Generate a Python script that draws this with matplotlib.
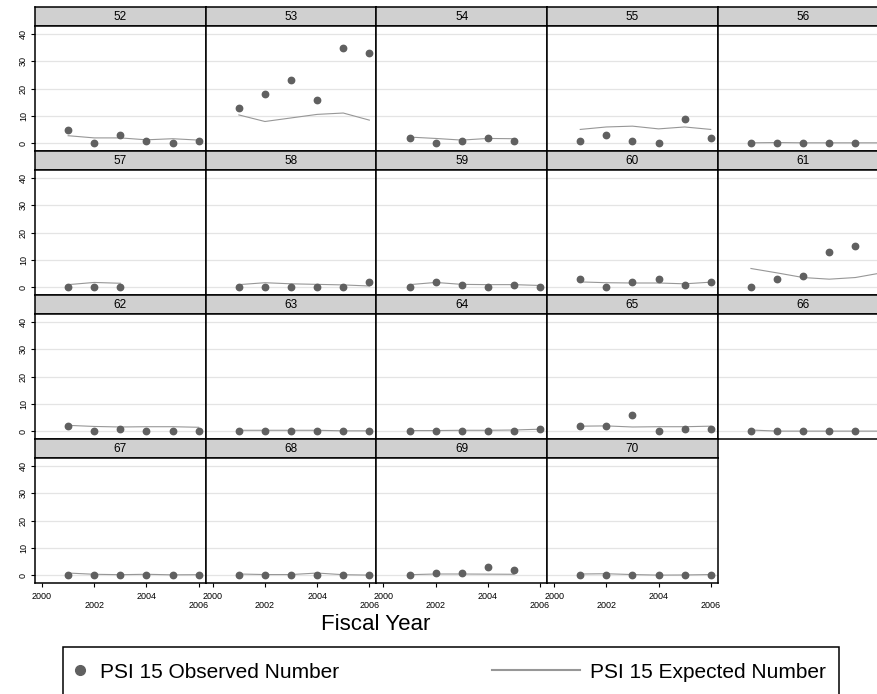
import numpy as np
import matplotlib.pyplot as plt
from matplotlib import font_manager
from matplotlib.lines import Line2D
from matplotlib.patches import Rectangle

plt.rcParams['font.family'] = ['Liberation Sans', 'DejaVu Sans']

# the legend text in the original is a narrow sans
_names = {f.name for f in font_manager.fontManager.ttflist}
if 'Liberation Sans Narrow' in _names:
    LEGEND_FONT, LEGEND_SIZE = 'Liberation Sans Narrow', 17
else:
    LEGEND_FONT, LEGEND_SIZE = 'Liberation Sans', 15

W, H = 878, 694
nan = np.nan

PANELS = list(range(52, 71))
YEARS = [2001, 2002, 2003, 2004, 2005, 2006]
XTICKS = [2000, 2002, 2004, 2006]
YTICKS = [0, 10, 20, 30, 40]

# observed counts, one row per panel (nan = no data that year)
OBSERVED = [
    [5, 0, 3, 1, 0, 1],          # 52
    [13, 18, 23, 16, 35, 33],    # 53
    [2, 0, 1, 2, 1, nan],        # 54
    [1, 3, 1, 0, 9, 2],          # 55
    [0, 0, 0, 0, 0, 0],          # 56
    [0, 0, 0, nan, nan, nan],    # 57
    [0, 0, 0, 0, 0, 2],          # 58
    [0, 2, 1, 0, 1, 0],          # 59
    [3, 0, 2, 3, 1, 2],          # 60
    [0, 3, 4, 13, 15, 23],       # 61
    [2, 0, 1, 0, 0, 0],          # 62
    [0, 0, 0, 0, 0, 0],          # 63
    [0, 0, 0, 0, 0, 1],          # 64
    [2, 2, 6, 0, 1, 1],          # 65
    [0, 0, 0, 0, 0, 0],          # 66
    [0, 0, 0, 0, 0, 0],          # 67
    [0, 0, 0, 0, 0, 0],          # 68
    [0, 1, 1, 3, 2, nan],        # 69
    [0, 0, 0, 0, 0, 0],          # 70
]

# expected counts
EXPECTED = [
    [2.8, 2.0, 2.0, 1.3, 1.7, 1.2],
    [10.4, 8.0, 9.3, 10.6, 11.1, 8.5],
    [2.3, 1.8, 1.2, 1.8, 1.7, nan],
    [5.1, 6.0, 6.3, 5.3, 6.0, 5.1],
    [0.2, 0.3, 0.2, 0.2, 0.2, 0.2],
    [1.0, 1.8, 1.5, nan, nan, nan],
    [1.0, 1.7, 1.3, 1.1, 0.9, 0.5],
    [1.0, 1.8, 1.1, 1.0, 1.0, 0.7],
    [2.0, 1.7, 1.6, 1.6, 1.3, 1.9],
    [6.9, 5.3, 3.6, 3.0, 3.6, 5.3],
    [2.2, 1.8, 1.6, 1.7, 1.7, 1.5],
    [0.4, 0.4, 0.4, 0.4, 0.2, 0.2],
    [0.3, 0.3, 0.4, 0.4, 0.5, 0.8],
    [1.9, 2.0, 1.6, 1.7, 1.7, 1.9],
    [0.5, 0.1, 0.1, 0.1, 0.1, 0.1],
    [0.85, 0.4, 0.25, 0.4, 0.2, 0.25],
    [0.5, 0.3, 0.3, 0.85, 0.25, 0.1],
    [0.25, 0.5, 0.5, 0.45, 0.4, nan],
    [0.5, 0.6, 0.3, 0.1, 0.15, 0.3],
]

NCOLS = 5
LEFT, TOP = 35, 7.3
COL_W = 170.7
STRIP_H, PLOT_H = 18.5, 125.5
ROW_H = STRIP_H + PLOT_H

DOT = '#606060'
LINE = '#979797'
GRID = '#e4e4e4'
STRIP = '#d0d0d0'


def box(x, y, w, h):
    # pixel box (top-left origin) -> figure fraction rect
    return [x / W, 1 - (y + h) / H, w / W, h / H]


fig = plt.figure(figsize=(W / 100, H / 100), dpi=100)
n = len(PANELS)

for i, panel in enumerate(PANELS):
    r, c = divmod(i, NCOLS)
    x0 = LEFT + c * COL_W
    y0 = TOP + r * ROW_H

    strip = fig.add_axes(box(x0, y0, COL_W, STRIP_H))
    strip.set_facecolor(STRIP)
    strip.set_xticks([])
    strip.set_yticks([])
    for s in strip.spines.values():
        s.set_linewidth(1.1)
    strip.text(0.5, 0.5, str(panel), ha='center', va='center', fontsize=8.5,
               transform=strip.transAxes)

    ax = fig.add_axes(box(x0, y0 + STRIP_H, COL_W, PLOT_H))
    ax.set_xlim(1999.73, 2006.27)
    ax.set_ylim(-2.9, 43.0)
    for s in ax.spines.values():
        s.set_linewidth(1.1)
    ax.set_yticks(YTICKS)
    ax.grid(axis='y', color=GRID, linewidth=0.9)
    ax.set_axisbelow(True)
    ax.plot(YEARS, EXPECTED[i], color=LINE, linewidth=0.8, zorder=2)
    ax.plot(YEARS, OBSERVED[i], linestyle='none', marker='o', markersize=4.6,
            color=DOT, zorder=3)

    ax.tick_params(axis='both', length=3, width=0.8, color='black',
                   labelsize=6.5)
    if c == 0:
        ax.tick_params(axis='y', labelrotation=90, pad=2)
        for lab in ax.get_yticklabels():
            lab.set_va('center')
    else:
        ax.tick_params(axis='y', left=False, labelleft=False)

    # only the last row gets year labels, staggered like the original
    if r == (n - 1) // NCOLS:
        ax.set_xticks(XTICKS)
        ax.set_xticklabels([str(t) for t in XTICKS])
        ax.tick_params(axis='x', pad=3)
        for k, tick in enumerate(ax.xaxis.get_major_ticks()):
            if k % 2 == 1:
                tick.set_pad(10)
    else:
        ax.tick_params(axis='x', bottom=False, labelbottom=False)

fig.text(376 / W, 1 - 625 / H, 'Fiscal Year', ha='center', va='center',
         fontsize=16)

# legend frame, runs past the bottom edge like the original
fig.add_artist(Rectangle((63 / W, 1 - 710 / H), 776 / W, 63 / H,
                         transform=fig.transFigure, fill=False,
                         edgecolor='black', linewidth=1.1))

obs_handle = Line2D([], [], linestyle='none', marker='o', markersize=7,
                    color=DOT)
exp_handle = Line2D([], [], color=LINE, linewidth=1.5)
legend_font = {'family': LEGEND_FONT, 'size': LEGEND_SIZE}
fig.legend([obs_handle], ['PSI 15 Observed Number'], loc='center left',
           bbox_to_anchor=(74 / W, 1 - 672 / H), frameon=False,
           prop=legend_font, handlelength=0.6, handletextpad=0.65,
           borderpad=0, borderaxespad=0)
fig.legend([exp_handle], ['PSI 15 Expected Number'], loc='center left',
           bbox_to_anchor=(492 / W, 1 - 672 / H), frameon=False,
           prop=legend_font, handlelength=4.2, handletextpad=0.5,
           borderpad=0, borderaxespad=0)

fig.savefig('out.png', dpi=100)
